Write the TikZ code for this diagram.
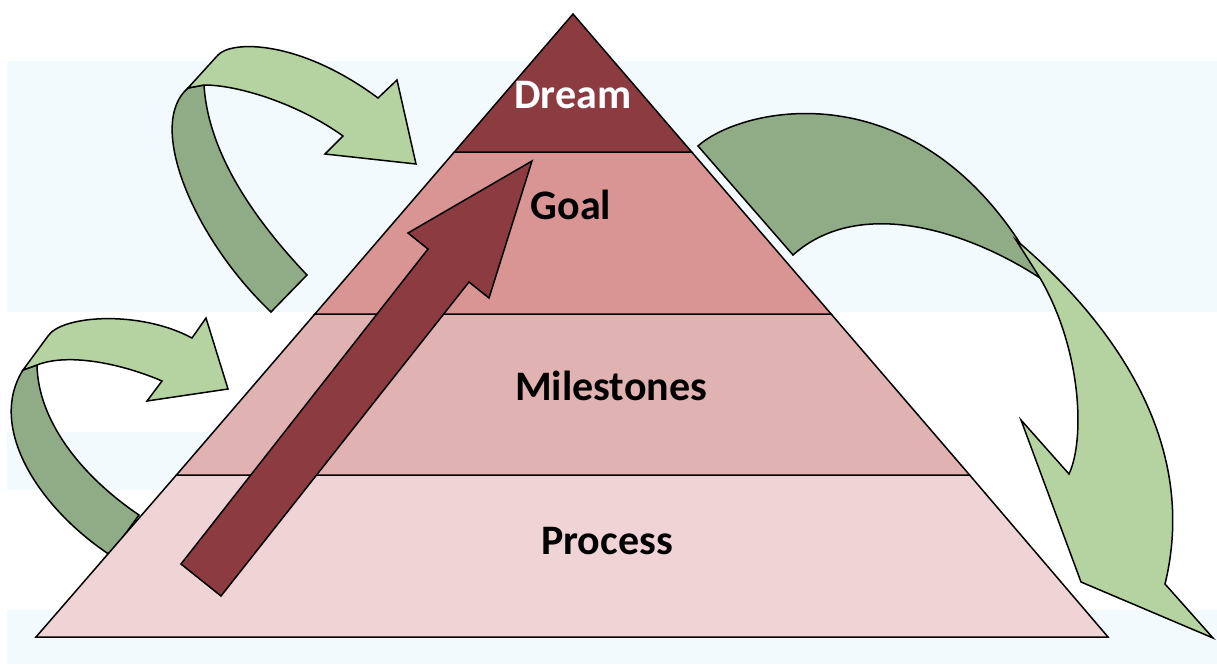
\documentclass[tikz,border=0pt]{standalone}
\usepackage{fontspec}
\setmainfont{Carlito}
\definecolor{bandblue}{HTML}{F2FAFD}
\definecolor{dreamred}{HTML}{8C3B40}
\definecolor{goalpink}{HTML}{D99594}
\definecolor{milepink}{HTML}{E0B2B2}
\definecolor{procpink}{HTML}{F0D4D5}
\definecolor{greenlight}{HTML}{B5D3A0}
\definecolor{greendark}{HTML}{8FAC87}
\begin{document}
\begin{tikzpicture}[x=1pt,y=-1pt,
  outline/.style={draw=black,line width=1.5pt,line join=miter},
  band/.style={fill=bandblue},
  layer/.style={outline},
  ribbonlight/.style={outline,fill=greenlight},
  ribbondark/.style={outline,fill=greendark},
  lbl/.style={font=\fontsize{42}{42}\selectfont\bfseries,anchor=base,inner sep=0pt}]
\useasboundingbox (0,0) rectangle (1217,664);
\fill[white] (0,0) rectangle (1217,664);

% pale background stripes
\fill[band] (7,61) rectangle (1217,312);
\fill[band] (7,432) rectangle (600,490);
\fill[band] (7,610) rectangle (1217,664);

% upper left curved arrow: back side, then front side with head
\path[ribbondark] (204,85) .. controls (208,150) and (250,215) .. (307,275)
  -- (271,312) .. controls (195,240) and (145,125) .. (188,88) -- cycle;
\path[ribbonlight] (188,88) -- (218,55) .. controls (232,40) and (300,40) .. (378,98)
  -- (397,80) -- (416,164) -- (325,154) -- (343,136)
  .. controls (300,105) and (240,85) .. (204,85) -- cycle;

% lower left curved arrow
\path[ribbondark] (37,365) .. controls (38,420) and (80,475) .. (139,515)
  -- (110,555) .. controls (35,505) and (-12,425) .. (23,370) -- cycle;
\path[ribbonlight] (23,370) -- (48,336) .. controls (62,315) and (140,310) .. (192,338)
  -- (206,318) -- (228,389) -- (147,401) -- (162,381)
  .. controls (125,365) and (70,352) .. (37,365) -- cycle;

% pyramid layers
\path[layer,fill=procpink] (176.4,475) -- (969.6,475) -- (1108,637) -- (36,637) -- cycle;
\path[layer,fill=milepink] (314.9,314) -- (831.1,314) -- (969.6,475) -- (176.4,475) -- cycle;
\path[layer,fill=goalpink] (454.3,152) -- (691.7,152) -- (831.1,314) -- (314.9,314) -- cycle;
\path[layer,fill=dreamred] (573,14) -- (691.7,152) -- (454.3,152) -- cycle;

% rising arrow through the layers
\path[outline,fill=dreamred] (181,564) -- (428,249) -- (408,233) -- (532,161) -- (489,298) -- (469,282) -- (221,596) -- cycle;

% right curved arrow falling from the top
\path[ribbondark] (698,146) .. controls (740,108) and (905,70) .. (1018,240)
  -- (1040,278) .. controls (970,232) and (860,195) .. (793,255) -- cycle;
\path[ribbonlight] (1016,240) .. controls (1110,320) and (1200,440) .. (1165,584)
  -- (1213,638) -- (1081,582) -- (1021,420) -- (1069,474)
  .. controls (1085,440) and (1082,350) .. (1040,278) -- cycle;

% layer labels
\node[lbl,text=white] (dream) at (573,108) {Dream};
\node[lbl] (goal) at (571,219) {Goal};
\node[lbl] (milestones) at (611,400) {Milestones};
\node[lbl] (process) at (607,554) {Process};
\end{tikzpicture}
\end{document}
